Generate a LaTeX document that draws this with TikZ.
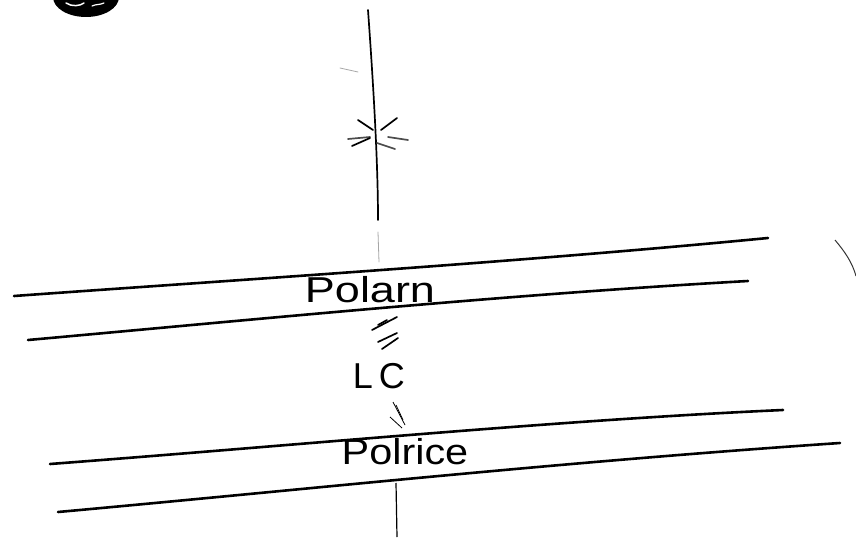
\documentclass[tikz,border=0pt]{standalone}
\usepackage{fontspec}
\setmainfont{Liberation Sans}
\begin{document}
\begin{tikzpicture}[x=1pt,y=-1pt,
  pen/.style={line width=2.6pt,line cap=round,line join=round},
  thin pen/.style={line width=1.7pt,line cap=round},
  faint/.style={line width=0.8pt,line cap=round,black!35},
  hand/.style={font=\fontsize{36}{40}\selectfont,inner sep=0pt}]
\useasboundingbox[fill=white] (0,0) rectangle (856,540);
% top-left scribbled blob
\begin{scope}
\clip (0,0) rectangle (856,540);
\fill (86,-3) ellipse [x radius=33, y radius=20];
\draw[white,line width=1.5pt,line cap=round] (66,3) .. controls (72,7) and (80,6) .. (84,3);
\draw[white,line width=1.2pt,line cap=round] (92,6) .. controls (96,4) and (100,5) .. (104,3);
\end{scope}
% upper vertical line
\coordinate (v1) at (368,10);
\coordinate (v2) at (378,220);
\draw[thin pen] (v1) .. controls (373,80) and (378,160) .. (v2);
\coordinate (vf1) at (378,232);
\coordinate (vf2) at (379,262);
\draw[faint] (vf1) -- (vf2);
\draw[faint] (340,68) -- (358,72);
% star marks
\draw[thin pen] (358,120) -- (373,130);
\draw[thin pen] (397,118) -- (381,130);
\draw[thin pen,black!70] (348,139) -- (370,137);
\draw[thin pen] (352,146) -- (370,138);
\draw[thin pen,black!70] (388,137) -- (408,140);
\draw[thin pen,black!70] (377,143) -- (395,149);
% upper band
\coordinate (a1) at (14,296);
\coordinate (a2) at (768,238);
\draw[pen] (a1) .. controls (250,279) and (520,262) .. (a2);
\coordinate (b1) at (28,340);
\coordinate (b2) at (748,281);
\draw[pen] (b1) .. controls (250,320) and (500,295) .. (b2);
\node[hand,xscale=1.25] (polarn) at (370,290) {Polarn};
% hatch below upper band
\draw[thin pen] (372,330) -- (397,317);
\draw[thin pen] (378,325) -- (387,320);
\draw[thin pen] (378,342) -- (397,333);
\draw[thin pen] (382,349) -- (398,338);
\node[hand] (lc) at (379,376) {L\,C};
% hatch above lower band
\draw[line width=0.8pt] (393,402) -- (405,425);
\draw[line width=0.8pt] (390,417) -- (402,428);
\draw[line width=0.8pt] (396,405) -- (403,420);
% lower band
\coordinate (c1) at (50,464);
\coordinate (c2) at (783,410);
\draw[pen] (c1) .. controls (300,445) and (560,420) .. (c2);
\coordinate (d1) at (58,512);
\coordinate (d2) at (840,443);
\draw[pen] (d1) .. controls (300,490) and (560,462) .. (d2);
\node[hand,xscale=1.15] (polrice) at (405,452) {Polrice};
% lower vertical line
\coordinate (e1) at (396,483);
\coordinate (e2) at (397,537);
\draw[line width=1.2pt] (e1) -- (e2);
% right arc
\coordinate (r1) at (835,240);
\coordinate (r2) at (856,276);
\draw[line width=1pt,black!80] (r1) .. controls (845,252) and (852,262) .. (r2);
\end{tikzpicture}
\end{document}
